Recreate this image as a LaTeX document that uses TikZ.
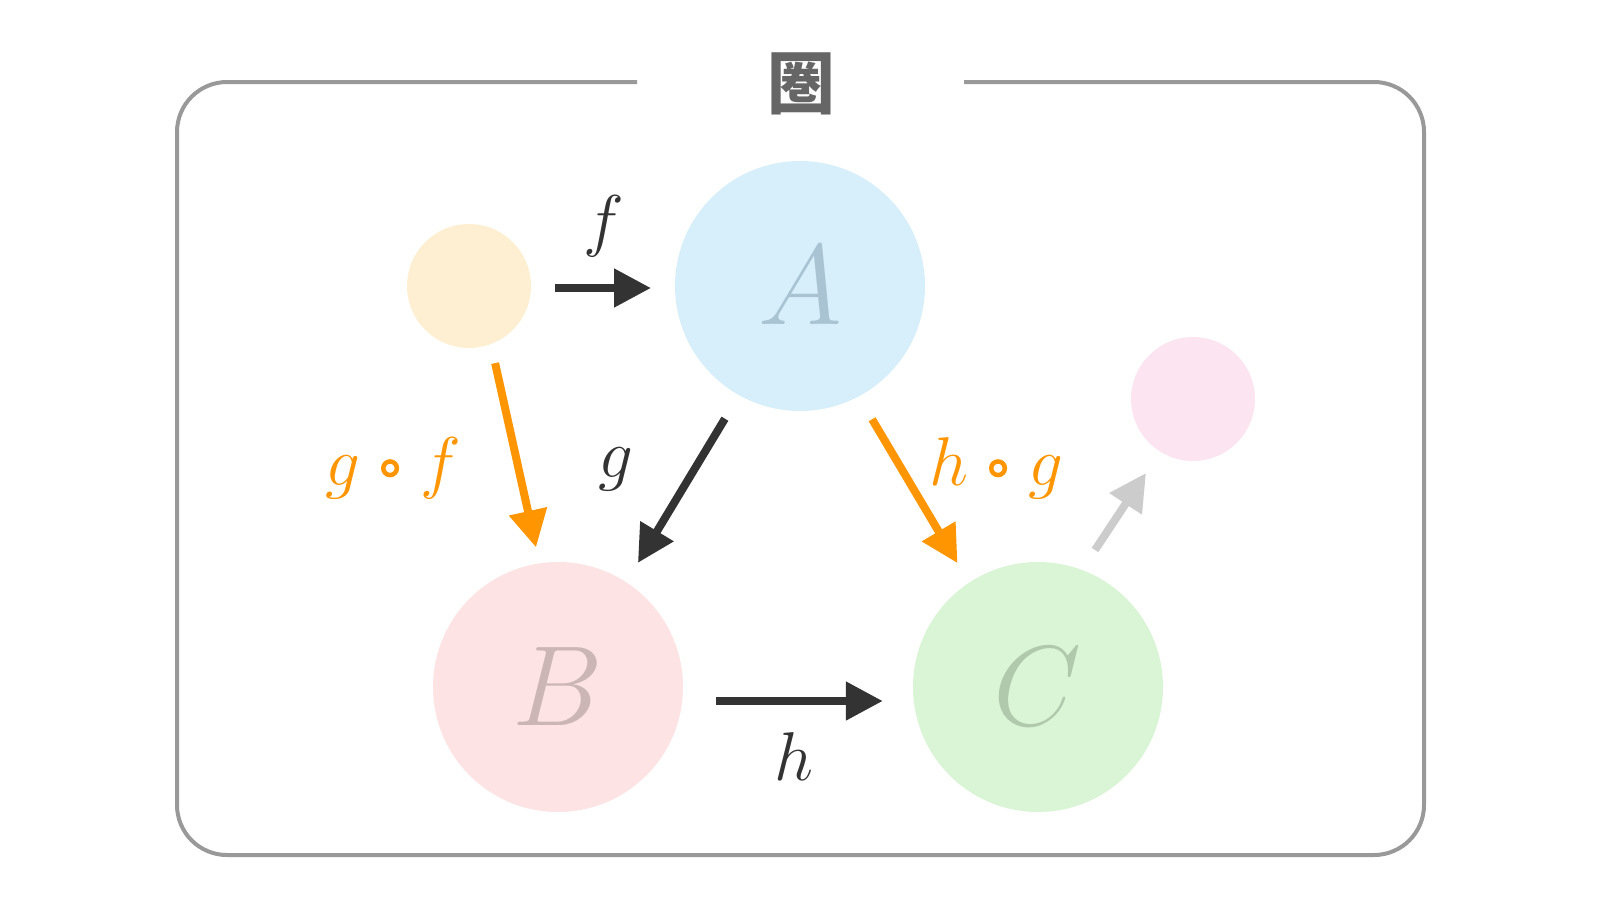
\RequirePackage{fix-cm}
\documentclass[tikz,border=0pt]{standalone}
\usepackage{fontspec}
\newfontfamily\cjkfont{Noto Sans CJK JP}
\usetikzlibrary{arrows.meta}
\definecolor{frame}{HTML}{999999}
\definecolor{title}{HTML}{666666}
\definecolor{dark}{HTML}{333333}
\definecolor{org}{HTML}{FF9500}
\definecolor{lgray}{HTML}{CCCCCC}
\definecolor{fillO}{HTML}{FEEFD2}
\definecolor{fillA}{HTML}{D7EEFB}
\definecolor{fillP}{HTML}{FDE4F1}
\definecolor{fillB}{HTML}{FDE3E3}
\definecolor{fillC}{HTML}{DAF5D5}
\definecolor{txtA}{HTML}{A9C3D3}
\definecolor{txtB}{HTML}{CBB5B5}
\definecolor{txtC}{HTML}{B0C9AD}
\newcommand{\mycomp}{\mathbin{\mkern1.5mu\tikz[baseline=-17pt]\draw[org, line width=4.5pt] (0pt,0pt) circle[radius=6.8pt];\mkern1.5mu}}
\tikzset{
  obj/.style={circle, inner sep=0pt, minimum size=250pt, font=\fontsize{114}{114}\selectfont},
  small/.style={circle, inner sep=0pt, minimum size=124pt},
  arr/.style={line width=8pt, -{Triangle[length=37pt,width=37pt]}},
  lbl/.style={font=\fontsize{69}{69}\selectfont},
}
\begin{document}
\begin{tikzpicture}[x=1pt,y=-1pt]
\useasboundingbox (0,0) rectangle (1600,900);
% frame
\draw[frame, line width=4pt, rounded corners=50pt]
  (637,82) -- (177,82) -- (177,855) -- (1424,855) -- (1424,82) -- (964,82);
\node[text=title, font=\cjkfont\bfseries\fontsize{68}{68}\selectfont] (ttl) at (801,84) {圏};
% objects
\node[small, fill=fillO] (o) at (469,286) {};
\node[obj, fill=fillA, text=txtA] (A) at (800,286) {$A$};
\node[small, fill=fillP] (p) at (1193,399) {};
\node[obj, fill=fillB, text=txtB] (B) at (558,687) {$B$};
\node[obj, fill=fillC, text=txtC] (C) at (1038,687) {$C$};
\coordinate (gs) at (1095,550);
\coordinate (ge) at (1146,473);
% arrows
\draw[arr, dark, shorten <=86pt, shorten >=149pt] ([yshift=-2pt]o.center) -- ([yshift=-2pt]A.center);
\draw[arr, dark, shorten <=155pt, shorten >=145pt] ([xshift=5pt]A.center) -- ([xshift=5pt]B.center);
\draw[arr, org, shorten <=79pt, shorten >=143pt] ([xshift=9pt]o.center) -- ([xshift=9pt]B.center);
\draw[arr, org, shorten <=155pt, shorten >=144pt] ([xshift=-7pt]A.center) -- ([xshift=-7pt]C.center);
\draw[arr, dark, shorten <=33pt, shorten >=30pt] ([yshift=-14pt]B.east) -- ([yshift=-14pt]C.west);
\draw[arr, lgray] (gs) -- (ge);
% labels
\node[lbl, text=dark] (lf) at (604,226) {$f$};
\node[lbl, text=dark] (lg) at (616,469) {$g$};
\node[lbl, text=org] (lgf) at (393,468) {$g\mycomp f$};
\node[lbl, text=org] (lhg) at (996,468) {$h\mycomp g$};
\node[lbl, text=dark] (lh) at (794,757) {$h$};
\end{tikzpicture}
\end{document}
